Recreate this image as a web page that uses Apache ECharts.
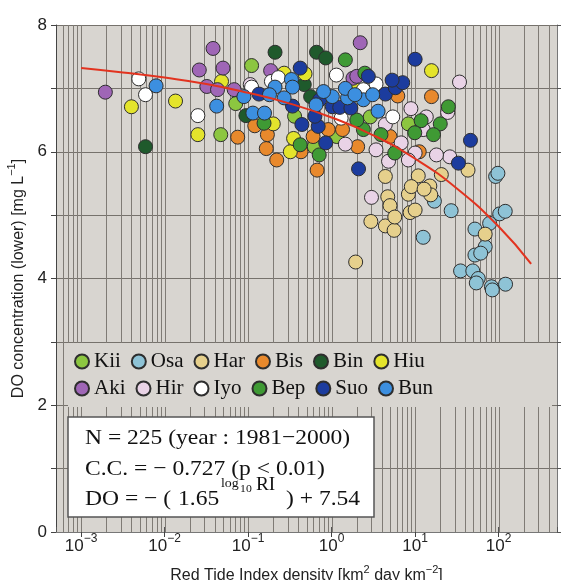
<!DOCTYPE html>
<html><head><meta charset="utf-8">
<script src="https://cdn.jsdelivr.net/npm/echarts@6/dist/echarts.min.js"></script>
<style>html,body{margin:0;padding:0;background:#fff}#c{width:564px;height:580px}</style>
</head><body><div id="c"></div>
<script>
// ---------- data (RI density, DO concentration) ----------
const groupNames = ['Kii','Osa','Har','Bis','Bin','Hiu','Aki','Hir','Iyo','Bep','Suo','Bun'];
const groupColors = ['#8cc640','#8ec3d6','#e6d08c','#e8892c','#1f5a2c','#e4e42c','#9f66b6','#e9d3e6','#ffffff','#3f9a34','#1c3c9e','#3c8fe0'];

const kii = [[0.047,6.27],[0.071,6.76],[0.11,7.36],[2.9,6.55],[8.3,6.44],[0.36,6.56],[1.15,6.24],[0.62,6.08]];
const osa = [[92,5.61],[98,5.66],[17,5.22],[27,5.07],[12.5,4.65],[103,5.02],[120,5.06],[78,4.87],[52,4.78],[69,4.50],[52,4.37],[61,4.40],[35,4.12],[49,4.12],[57,4.00],[54,3.93],[82,3.87],[84,3.82],[121,3.91]];
const har = [[4.4,5.61],[10.9,5.62],[20.6,5.64],[43,5.71],[4.7,5.29],[5.0,5.15],[2.95,4.90],[4.4,4.83],[5.6,4.76],[5.7,4.97],[8.3,5.33],[9.0,5.45],[15,5.46],[15.4,5.32],[12.8,5.41],[8.7,5.04],[10,5.08],[1.94,4.26],[69,4.70]];
const bis = [[0.075,6.23],[15.7,6.87],[11.2,6.00],[5.0,6.24],[2.05,6.08],[0.67,5.71],[0.43,6.00],[0.60,6.24],[0.22,5.87],[0.165,6.05],[0.17,6.27],[0.12,6.41],[6.2,6.88],[0.91,6.35],[1.35,6.35]];
const bin = [[0.0059,6.08],[0.21,7.57],[0.47,7.06],[0.66,7.57],[0.85,7.48],[0.094,6.57],[0.56,6.87]];
const hiu = [[0.0040,6.71],[0.0135,6.80],[0.048,7.11],[0.025,6.27],[0.27,7.24],[0.48,7.23],[15.7,7.28],[0.32,6.00],[0.35,6.21],[0.20,6.44],[1.95,6.98]];
const aki = [[0.00195,6.94],[0.038,7.63],[0.026,7.29],[0.050,7.32],[0.032,7.03],[0.043,6.98],[0.068,6.98],[0.186,7.28],[2.2,7.72],[1.8,7.16],[2.0,7.19]];
const hir = [[0.106,7.06],[34,7.10],[26,5.92],[18,5.95],[24.5,6.62],[8.9,6.68],[13.6,6.55],[10,5.98],[8.3,5.87],[3.4,6.03],[4.8,5.85],[6.8,6.14],[4.4,6.43],[1.46,6.12],[3.0,5.28],[12.5,6.35]];
const iyo = [[0.0049,7.15],[0.0059,6.90],[0.025,6.57],[0.19,7.11],[5.4,6.55],[3.4,7.07],[1.14,7.21],[2.4,6.98],[0.23,7.17],[0.11,7.02],[1.3,6.53]];
const bep = [[1.46,7.45],[25,6.71],[20,6.44],[16.6,6.27],[11.8,6.49],[9.9,6.30],[5.7,5.98],[3.9,6.27],[2.4,6.35],[0.71,5.95],[0.42,6.11],[0.155,6.45],[2.5,7.24],[2.0,6.50]];
const suo = [[0.135,6.91],[0.42,7.32],[10,7.46],[46,6.18],[33,5.82],[2.1,5.73],[0.85,6.14],[0.44,6.43],[0.69,6.40],[0.63,6.56],[0.34,6.72],[0.72,6.82],[1.02,6.71],[1.25,6.70],[1.7,6.69],[4.4,6.91],[5.8,7.01],[7.1,7.09],[2.75,7.19],[5.3,7.13]];
const bun = [[0.0079,7.04],[0.042,6.72],[0.089,6.87],[0.21,7.02],[0.33,7.14],[0.34,7.02],[0.27,6.85],[3.6,6.64],[0.114,6.61],[0.157,6.61],[0.65,6.74],[1.02,6.87],[1.55,6.85],[1.46,7.00],[2.4,6.82],[3.1,6.90],[0.8,6.95],[1.9,6.90],[0.18,6.90]];
const groupData = [kii,osa,har,bis,bin,hiu,aki,hir,iyo,bep,suo,bun];

// fitted curve
const fitRI = [0.001,0.00316,0.01,0.0316,0.1,0.316,1,3.16,10,31.6,100,245];
const fitDO = [7.32,7.25,7.17,7.07,6.93,6.76,6.54,6.26,5.89,5.42,4.82,4.23];

// axes
const xMin = 0.0005, xMax = 500;
const yMin = 0, yMax = 8;
const statLines = ['N = 225 (year : 1981\u22122000)', 'C.C. = \u2212 0.727 (p < 0.01)'];

// ---------- chart ----------
const gridLineValues = [];
for (let k = -4; k <= 2; k++) {
  for (let m = 1; m <= 9; m++) {
    const v = m * Math.pow(10, k);
    if (v > xMin * 1.0001 && v < xMax * 0.9999) gridLineValues.push(+v.toPrecision(3));
  }
}

const serif = '"Liberation Serif", "Times New Roman", serif';
const sans = '"Liberation Sans", Arial, Helvetica, sans-serif';

function decadeLabel(v) {
  const l = Math.log10(v);
  const e = Math.round(l);
  if (Math.abs(l - e) > 1e-6) return '';
  return '{b|10}{s|' + (e < 0 ? '\u2212' + (-e) : e) + '}';
}

const series = [{
  type: 'custom', name: 'vgrid', silent: true, z: 1,
  data: gridLineValues.map(v => [v, yMin]),
  encode: { x: 0, y: 1 },
  renderItem: function (params, api) {
    const v = api.value(0);
    const p0 = api.coord([v, yMin]);
    const p1 = api.coord([v, yMax]);
    const x = Math.round(p0[0]) + 0.5;
    return { type: 'line', shape: { x1: x, y1: p0[1], x2: x, y2: p1[1] },
             style: { stroke: '#7f7b75', lineWidth: 1 } };
  }
}];
groupNames.forEach((n, i) => {
  series.push({
    type: 'scatter', name: n, data: groupData[i], symbol: 'circle', symbolSize: 14, z: 2,
    itemStyle: { color: groupColors[i], borderColor: '#2e2e2e', borderWidth: 1, opacity: 1 }
  });
});
series.push({
  type: 'line', name: 'fit', data: fitRI.map((r, i) => [r, fitDO[i]]), smooth: true,
  symbol: 'none', z: 3, lineStyle: { color: '#e2331f', width: 2 }
});

const legendCommon = {
  orient: 'horizontal', icon: 'circle', itemWidth: 14, itemHeight: 14, itemGap: 10,
  selectedMode: false, z: 6, padding: 0,
  textStyle: { fontFamily: serif, fontSize: 21, color: '#111', width: 55, overflow: 'none' }
};

function txt(text, x, y, size, sx) {
  return { type: 'text', z: 5, silent: true, x: x, y: y, scaleX: sx || 1.07,
           style: { text: text, x: 0, y: 0, fontFamily: serif, fontSize: size, fill: '#111', verticalAlign: 'middle', align: 'left' } };
}

const option = {
  animation: false,
  backgroundColor: '#ffffff',
  grid: { left: 56, right: 7, top: 25, bottom: 48, show: true, backgroundColor: '#d8d5d0', borderWidth: 0,
          outerBoundsMode: 'none', containLabel: false },
  xAxis: [{
    type: 'log', min: xMin, max: xMax, logBase: 10, splitNumber: 6, position: 'bottom',
    axisLine: { show: true, lineStyle: { color: '#444', width: 1 } },
    axisTick: { show: true, length: 5, lineStyle: { color: '#444' } },
    splitLine: { show: false },
    axisLabel: {
      margin: 1, showMinLabel: false, showMaxLabel: false, formatter: decadeLabel,
      rich: {
        b: { fontFamily: sans, fontSize: 17, color: '#222', lineHeight: 22, verticalAlign: 'bottom' },
        s: { fontFamily: sans, fontSize: 12, color: '#222', lineHeight: 12, verticalAlign: 'top' }
      }
    },
    name: '{a|Red Tide Index density [km}{s|2}{a| day km}{s|\u22122}{a|]}',
    nameLocation: 'middle', nameGap: 32,
    nameTextStyle: {
      rich: {
        a: { fontFamily: sans, fontSize: 16, color: '#222', lineHeight: 20, verticalAlign: 'bottom' },
        s: { fontFamily: sans, fontSize: 11, color: '#222', lineHeight: 11, verticalAlign: 'top' }
      }
    }
  }, {
    type: 'log', min: xMin, max: xMax, logBase: 10, splitNumber: 6, position: 'top',
    axisLine: { show: true, lineStyle: { color: '#777', width: 1 } },
    axisTick: { show: true, length: 5, lineStyle: { color: '#555' } },
    splitLine: { show: false }, axisLabel: { show: false }
  }],
  yAxis: [{
    type: 'value', min: yMin, max: yMax, interval: 1, position: 'left',
    axisLine: { show: true, lineStyle: { color: '#444', width: 1 } },
    axisTick: { show: true, length: 5, lineStyle: { color: '#444' } },
    splitLine: { show: true, lineStyle: { color: '#76726c', width: 1 } },
    axisLabel: {
      margin: 9, fontFamily: sans, fontSize: 17, color: '#222',
      formatter: v => (v % 2 === 0 ? String(v) : '')
    },
    name: '{a|DO concentration (lower) [mg L}{s|\u22121}{a|]}',
    nameLocation: 'middle', nameGap: 27, nameRotate: 90,
    nameTextStyle: {
      rich: {
        a: { fontFamily: sans, fontSize: 16, color: '#222', lineHeight: 20, verticalAlign: 'bottom' },
        s: { fontFamily: sans, fontSize: 11, color: '#222', lineHeight: 11, verticalAlign: 'top' }
      }
    }
  }, {
    type: 'value', min: yMin, max: yMax, interval: 1, position: 'right',
    axisLine: { show: true, lineStyle: { color: '#777', width: 1 } },
    axisTick: { show: true, length: 4, lineStyle: { color: '#555' } },
    splitLine: { show: false }, axisLabel: { show: false }
  }],
  legend: [
    Object.assign({}, legendCommon, { data: groupNames.slice(0, 6), left: 74, top: 351 }),
    Object.assign({}, legendCommon, { data: groupNames.slice(6), left: 74, top: 378 })
  ],
  graphic: {
    elements: [
      { type: 'rect', z: 4, silent: true, shape: { x: 68, y: 343, width: 484, height: 64 }, style: { fill: '#d8d5d0' } },
      { type: 'rect', z: 4, silent: true, shape: { x: 68, y: 417, width: 306, height: 100 }, style: { fill: '#ffffff', stroke: '#555', lineWidth: 1.5 } },
      txt(statLines[0], 85, 438, 22),
      txt(statLines[1], 85, 469, 22),
      txt('DO = \u2212 (', 85, 499, 22),
      txt('1.65', 178, 499, 22),
      txt('log', 221, 484, 13),
      txt('10', 240, 489, 11),
      txt('RI', 256, 485, 18),
      txt(') + 7.54', 286, 499, 22)
    ]
  },
  series: series
};

const chart = echarts.init(document.getElementById('c'), null, { renderer: 'canvas' });
chart.setOption(option);
</script>
</body></html>
